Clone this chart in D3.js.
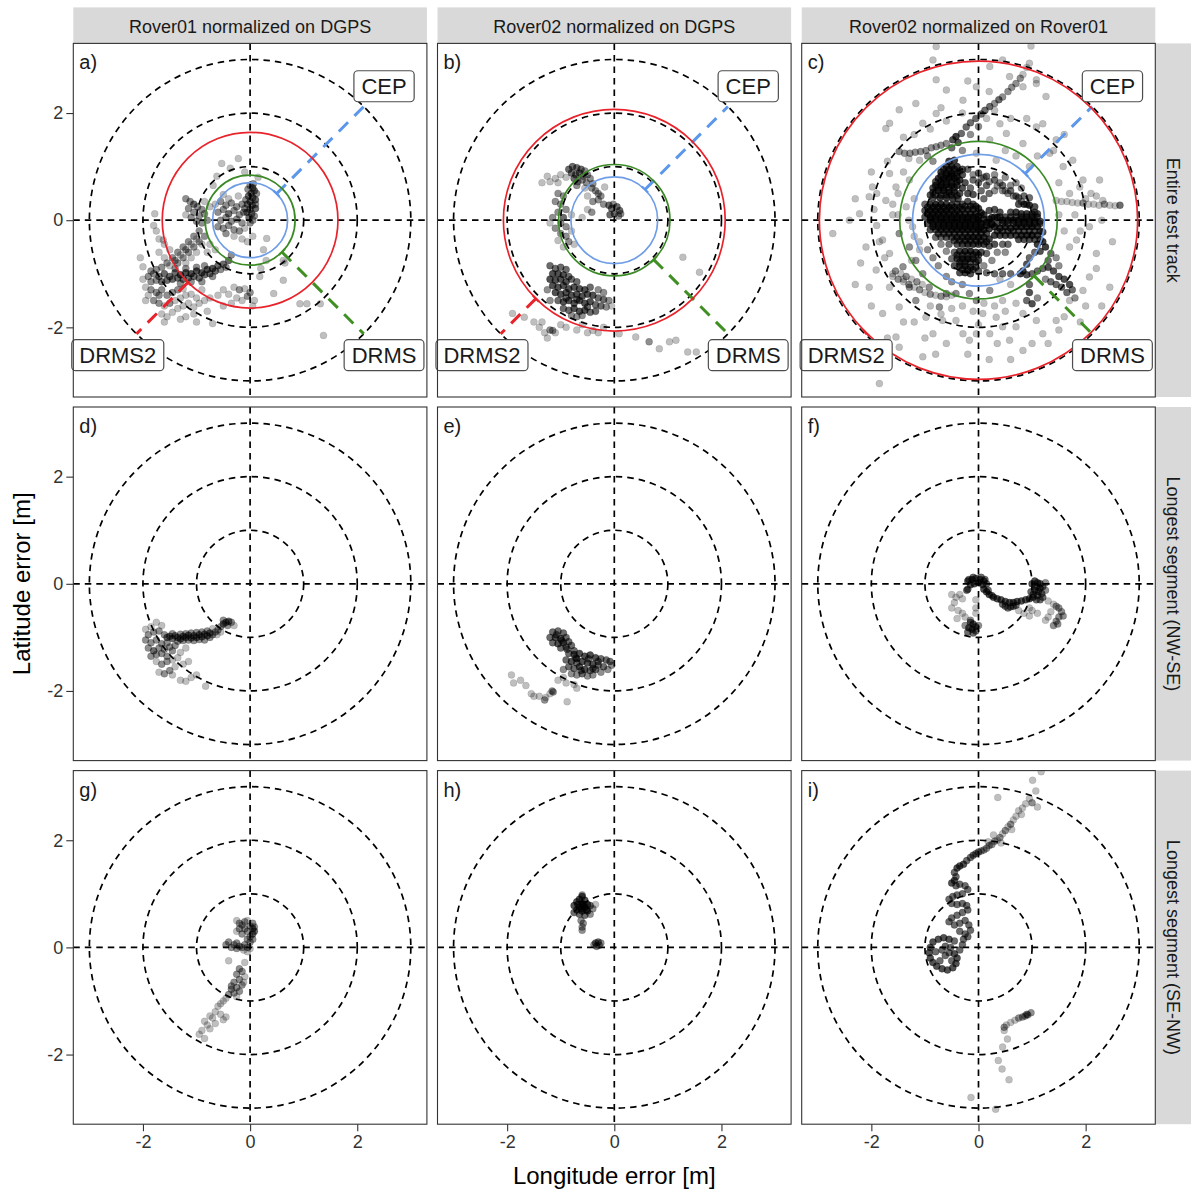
<!DOCTYPE html>
<html>
<head>
<meta charset="utf-8">
<script src="https://cdn.jsdelivr.net/npm/d3@7"></script>
<style>
  body { margin: 0; background: #fff; }
  svg text { font-family: "Liberation Sans", Arial, Helvetica, sans-serif; }
</style>
</head>
<body>
<svg id="chart" width="1191" height="1189"></svg>
<script>
// facet labels
const colLabels = ["Rover01 normalized on DGPS", "Rover02 normalized on DGPS", "Rover02 normalized on Rover01"];
const rowLabels = ["Entire test track", "Longest segment (NW-SE)", "Longest segment (SE-NW)"];
const panelTags = ["a)", "b)", "c)", "d)", "e)", "f)", "g)", "h)", "i)"];
const refRadii = [1, 2, 3];
const tickValues = [-2, 0, 2];

// accuracy circles (m), only for the entire track row
const cepRadius = [0.70, 0.81, 1.23];
const drmsRadius = [0.84, 1.04, 1.47];
const drms2Radius = [1.64, 2.07, 2.97];

// points: [lon error, lat error, n overlapping fixes]
const rover01Entire = [
  [0.0,0.65,2],[0.05,0.6,3],[0.08,0.55,3],[0.02,0.5,3],[-0.03,0.45,3],[0.05,0.42,3],[0.1,0.38,3],[0.0,0.35,3],
  [-0.05,0.3,3],[0.04,0.28,3],[0.1,0.22,3],[0.0,0.2,3],[-0.06,0.15,3],[0.03,0.12,3],[0.08,0.08,2],[-0.02,0.05,3],
  [0.05,0.0,2],[-0.08,0.38,2],[0.12,0.5,2],[-0.04,0.58,2],[0.06,0.68,2],[0.1,0.3,2],[-0.1,0.22,2],[0.0,-0.05,2],
  [-0.65,0.3,1],[-0.55,0.35,2],[-0.45,0.28,2],[-0.35,0.32,2],[-0.25,0.25,2],[-0.15,0.3,2],[-0.6,0.15,2],[-0.5,0.2,2],
  [-0.4,0.12,3],[-0.3,0.18,2],[-0.2,0.1,2],[-0.12,0.15,2],[-0.55,0.0,2],[-0.45,0.05,2],[-0.35,-0.02,2],[-0.25,0.02,2],
  [-0.15,-0.05,2],[-0.6,-0.12,2],[-0.5,-0.15,2],[-0.4,-0.1,2],[-0.3,-0.18,2],[-0.2,-0.2,2],[-0.1,-0.15,1],[-0.45,-0.25,2],
  [-0.3,-0.3,1],[-0.15,-0.35,1],[-0.05,-0.4,1],[0.05,-0.3,1],[-0.4,0.4,1],[-0.22,0.45,1],[-0.5,0.48,1],
  [-1.2,0.4,2],[-1.12,0.35,2],[-1.05,0.3,3],[-0.98,0.25,2],[-0.9,0.2,2],[-1.15,0.22,2],[-1.05,0.15,2],[-0.95,0.08,2],
  [-0.85,0.12,2],[-1.1,0.05,2],[-1.0,-0.02,2],[-0.9,-0.05,2],[-0.8,0.0,2],[-0.75,0.25,1],[-1.2,0.1,1],[-0.85,0.35,1],
  [-0.95,-0.2,2],[-0.85,-0.3,2],[-1.05,-0.3,2],[-0.95,-0.4,2],[-1.15,-0.4,2],[-1.05,-0.5,2],[-1.25,-0.5,2],[-1.15,-0.6,2],
  [-1.35,-0.6,2],[-1.25,-0.7,2],[-1.45,-0.7,2],[-1.35,-0.8,2],[-1.55,-0.8,2],[-1.65,-0.88,2],[-1.75,-0.92,2],[-1.85,-0.95,2],
  [-1.5,-0.55,1],[-1.6,-0.45,1],[-1.7,-0.35,1],[-1.75,-0.2,1],[-1.8,-0.1,1],[-1.78,0.12,1],[-1.62,-0.37,1],[-0.75,-0.45,1],[-0.65,-0.55,1],
  [-1.0,-0.35,1],[-1.1,-0.45,1],[-1.2,-0.55,2],[-1.3,-0.65,1],[-1.4,-0.75,2],[-1.5,-0.85,1],[-0.9,-0.45,1],[-1.0,-0.6,1],
  [-1.1,-0.7,1],[-1.2,-0.8,1],[-1.6,-0.7,1],[-1.7,-0.6,1],[-0.8,-0.6,1],
  [-1.9,-1.05,2],[-1.8,-1.0,2],[-1.7,-1.05,3],[-1.6,-1.0,3],[-1.5,-1.05,3],[-1.4,-0.98,3],[-1.3,-1.02,4],[-1.2,-0.98,4],
  [-1.1,-1.0,4],[-1.0,-0.95,4],[-0.9,-0.98,4],[-0.8,-0.92,4],[-0.7,-0.9,4],[-0.6,-0.85,3],[-0.5,-0.82,3],[-0.4,-0.75,3],[-0.35,-0.65,2],
  [-1.85,-1.15,2],[-1.75,-1.12,2],[-1.65,-1.15,3],[-1.55,-1.12,3],[-1.45,-1.1,3],[-1.35,-1.08,3],[-1.25,-1.1,3],[-1.15,-1.08,3],
  [-1.05,-1.05,3],[-0.95,-1.08,3],[-0.85,-1.02,3],[-0.75,-1.0,3],[-0.65,-0.95,3],[-0.55,-0.92,2],[-0.45,-0.88,2],
  [-1.2,-0.9,2],[-1.0,-0.88,2],[-0.85,-0.85,2],[-1.4,-0.9,2],[-0.7,-1.05,2],[-1.1,-1.15,2],[-1.3,-1.18,2],[-0.9,-1.15,2],
  [-1.95,-1.25,1],[-1.85,-1.3,2],[-1.75,-1.35,2],[-1.65,-1.3,2],[-1.55,-1.4,2],[-1.45,-1.35,2],[-1.35,-1.3,2],[-1.25,-1.28,1],
  [-1.8,-1.5,2],[-1.7,-1.55,2],[-1.6,-1.6,1],[-1.5,-1.55,2],[-1.4,-1.5,1],[-1.3,-1.45,1],[-1.2,-1.4,1],[-1.1,-1.38,1],
  [-1.0,-1.45,1],[-1.65,-1.75,1],[-1.55,-1.8,1],[-1.45,-1.72,1],[-1.35,-1.65,1],[-1.25,-1.6,1],[-1.15,-1.55,1],[-1.05,-1.62,1],
  [-0.95,-1.55,1],[-0.85,-1.5,1],[-0.75,-1.45,1],[-1.3,-1.85,1],[-1.2,-1.8,1],[-0.7,-1.93,1],[-1.05,-1.75,1],[-1.7,-1.4,2],[-1.9,-1.4,1],
  [-2.0,-1.1,1],[-1.95,-1.5,1],[-1.6,-1.9,1],[-1.0,-1.9,1],[-0.5,-1.6,1],[-0.8,-1.7,1],[-0.9,-1.3,1],[-2.05,-0.7,1],
  [-0.3,-1.25,1],[-0.2,-1.3,2],[-0.1,-1.28,1],[0.0,-1.35,2],[-0.25,-1.45,1],[-0.15,-1.5,1],[-0.05,-1.42,2],[0.08,-1.5,1],
  [-0.35,-1.55,1],[0.05,-1.6,1],[-0.4,-1.38,1],[-0.5,-1.3,1],[-0.6,-1.4,1],
  [0.31,-0.34,1],[0.62,-0.75,1],[0.65,-0.8,1],[0.62,-1.12,1],[0.44,-1.37,1],[0.93,-1.56,1],[1.06,-1.56,1],[1.31,-1.56,1],
  [1.37,-2.15,1],[0.3,-0.75,1],[0.2,-0.9,1],[-0.53,1.06,1],[-0.22,1.15,1],[-0.37,0.97,1],[-0.69,0.65,1],[0.15,0.8,1],
  [-0.1,0.9,1],[-2.0,-0.87,1],[0.25,-0.55,1],[0.18,-1.05,1],[-0.62,0.82,1]
];

const rover02Entire = [
  [-0.85,0.95,3],[-0.78,1.0,3],[-0.7,0.98,3],[-0.62,0.95,3],[-0.55,0.92,2],[-0.8,0.88,3],[-0.72,0.85,3],[-0.65,0.88,3],
  [-0.58,0.82,2],[-0.5,0.85,2],[-0.75,0.78,3],[-0.68,0.72,2],[-0.6,0.75,2],[-0.52,0.7,2],[-0.45,0.78,2],[-0.4,0.68,2],
  [-0.7,0.65,2],[-0.9,0.8,1],[-1.0,0.85,1],[-1.1,0.78,1],[-1.2,0.72,1],[-1.35,0.7,1],[-1.25,0.82,1],[-1.05,0.7,1],
  [-0.35,0.55,2],[-0.3,0.5,2],[-0.25,0.45,2],[-0.3,0.38,2],[-0.2,0.3,2],[-0.1,0.28,3],[-0.05,0.22,3],[0.05,0.25,3],
  [0.1,0.18,3],[0.0,0.12,3],[-0.08,0.1,3],[0.08,0.08,2],[-0.02,0.3,2],[0.12,0.12,2],[-0.42,0.6,2],[-0.18,0.62,1],
  [-0.55,0.6,1],[-0.5,0.45,1],[-0.4,0.35,2],[-0.5,0.2,1],[-0.6,0.05,1],[-0.42,0.15,2],
  [-1.05,0.5,2],[-0.95,0.45,2],[-1.1,0.35,2],[-1.0,0.3,2],[-0.9,0.2,2],[-1.05,0.15,2],[-0.95,0.05,3],[-1.15,0.05,2],
  [-1.0,-0.05,2],[-0.9,-0.12,2],[-1.1,-0.15,2],[-1.0,-0.25,2],[-0.9,-0.3,2],[-0.85,-0.4,2],[-1.05,-0.38,1],[-0.95,-0.5,1],
  [-0.8,-0.2,1],[-0.75,-0.45,1],[-1.2,-0.05,1],[-0.8,0.1,1],
  [-1.2,-0.85,3],[-1.1,-0.9,3],[-1.0,-0.88,3],[-0.9,-0.92,3],[-1.15,-1.0,4],[-1.05,-1.0,4],[-0.95,-1.02,4],[-0.85,-1.05,3],
  [-1.2,-1.1,4],[-1.1,-1.12,4],[-1.0,-1.1,4],[-0.9,-1.15,4],[-0.8,-1.1,3],[-0.7,-1.15,3],[-1.15,-1.22,4],[-1.05,-1.25,4],
  [-0.95,-1.22,4],[-0.85,-1.28,4],[-0.75,-1.25,4],[-0.65,-1.28,4],[-0.55,-1.3,4],[-0.45,-1.25,3],[-1.1,-1.35,4],[-1.0,-1.38,4],
  [-0.9,-1.35,4],[-0.8,-1.4,4],[-0.7,-1.38,4],[-0.6,-1.42,4],[-0.5,-1.38,4],[-0.4,-1.4,4],[-0.3,-1.45,3],[-0.2,-1.48,3],
  [-0.1,-1.5,2],[-1.05,-1.5,3],[-0.95,-1.52,4],[-0.85,-1.5,4],[-0.75,-1.55,4],[-0.65,-1.5,4],[-0.55,-1.55,4],[-0.45,-1.52,4],
  [-0.35,-1.58,3],[-0.25,-1.6,3],[-0.15,-1.62,2],[-0.95,-1.65,3],[-0.85,-1.68,3],[-0.75,-1.65,4],[-0.65,-1.7,4],[-0.55,-1.68,4],
  [-0.45,-1.72,3],[-0.35,-1.7,3],[-0.8,-1.78,2],[-0.7,-1.8,2],[-0.6,-1.78,2],[-1.2,-1.5,2],[-1.25,-1.3,2],[-0.3,-1.3,2],
  [-0.2,-1.35,2],[-0.05,-1.6,1],[-0.5,-1.62,3],[-0.9,-1.45,3],[-0.7,-1.48,3],
  [-1.9,-1.74,1],[-1.68,-1.81,1],[-1.5,-1.9,1],[-1.4,-2.0,1],[-1.3,-2.1,1],[-1.2,-2.05,2],[-1.15,-2.06,2],[-1.1,-2.1,1],
  [-1.25,-2.2,1],[-1.0,-1.95,1],[-0.9,-2.0,1],[-0.7,-2.05,1],[-0.5,-2.1,1],[-0.4,-2.06,1],[-0.3,-2.1,1],[-0.6,-1.95,1],
  [0.09,-2.12,1],[0.4,-2.18,1],[0.65,-2.27,2],[0.84,-2.4,1],[1.03,-2.27,1],[1.15,-2.24,1],[1.37,-2.46,1],[1.53,-2.46,1],
  [1.28,-0.69,1],[1.59,-0.97,1],[-0.2,-2.0,1],[-1.35,-1.9,1]
];

const roverDiffEntire = [
  [-0.55,1.1,5],[-0.45,1.12,5],[-0.6,1.0,5],[-0.5,1.0,6],[-0.4,1.0,5],[-0.3,0.95,4],[-0.7,0.9,5],[-0.6,0.88,6],
  [-0.5,0.88,6],[-0.4,0.88,5],[-0.3,0.85,4],[-0.75,0.78,5],[-0.65,0.78,6],[-0.55,0.78,6],[-0.45,0.78,6],[-0.35,0.75,5],
  [-0.25,0.7,4],[-0.8,0.65,5],[-0.7,0.65,6],[-0.6,0.66,6],[-0.5,0.65,6],[-0.4,0.65,5],[-0.3,0.6,4],[-0.85,0.52,4],
  [-0.75,0.55,5],[-0.65,0.55,6],[-0.55,0.52,6],[-0.45,0.52,5],[-0.35,0.5,4],[-0.85,0.42,4],[-0.72,0.42,5],[-0.6,0.42,5],
  [-0.48,0.4,5],[-0.38,0.4,4],
  [-0.65,0.95,4],[-0.55,0.95,4],[-0.45,0.95,4],[-0.35,0.92,3],[-0.7,0.83,4],[-0.6,0.83,4],[-0.5,0.83,4],[-0.4,0.82,4],
  [-0.8,0.72,4],[-0.7,0.72,4],[-0.6,0.72,4],[-0.5,0.72,4],[-0.4,0.72,4],[-0.85,0.6,4],[-0.75,0.6,4],[-0.65,0.6,4],
  [-0.55,0.6,4],[-0.45,0.6,4],[-0.9,0.47,4],[-0.8,0.47,4],[-0.7,0.47,4],[-0.6,0.47,4],[-0.5,0.47,4],[-0.4,0.46,3],
  [-1.0,0.3,3],[-0.9,0.3,5],[-0.8,0.3,6],[-0.7,0.3,6],[-0.6,0.3,5],[-0.5,0.28,5],[-0.4,0.3,4],[-0.3,0.3,4],
  [-0.2,0.35,4],[-0.1,0.3,4],[-1.0,0.18,4],[-0.9,0.18,6],[-0.8,0.18,6],[-0.7,0.18,6],[-0.6,0.18,6],[-0.5,0.18,5],
  [-0.4,0.18,5],[-0.3,0.2,5],[-0.2,0.2,5],[-0.1,0.2,5],[0.0,0.22,5],[-1.0,0.06,4],[-0.9,0.06,6],[-0.8,0.06,6],
  [-0.7,0.06,6],[-0.6,0.06,6],[-0.5,0.06,6],[-0.4,0.06,6],[-0.3,0.06,6],[-0.2,0.06,6],[-0.1,0.06,6],[0.0,0.08,6],
  [0.1,0.1,5],[-0.95,-0.06,4],[-0.85,-0.06,5],[-0.75,-0.06,5],[-0.65,-0.06,6],[-0.55,-0.06,6],[-0.45,-0.06,6],[-0.35,-0.06,6],
  [-0.25,-0.06,6],[-0.15,-0.06,6],[-0.05,-0.06,6],[0.05,-0.06,6],[0.15,-0.04,5],[-0.9,-0.18,4],[-0.8,-0.18,4],[-0.7,-0.18,5],
  [-0.6,-0.18,5],[-0.5,-0.18,6],[-0.4,-0.18,6],[-0.3,-0.18,6],[-0.2,-0.18,6],[-0.1,-0.18,6],[0.0,-0.18,6],[0.1,-0.18,6],[0.2,-0.16,5],
  [-0.95,0.24,4],[-0.85,0.24,5],[-0.75,0.24,5],[-0.65,0.24,5],[-0.55,0.24,5],[-0.45,0.24,4],[-0.35,0.24,4],[-0.25,0.26,4],
  [-0.15,0.26,4],[-0.05,0.26,4],[-0.95,0.12,5],[-0.85,0.12,5],[-0.75,0.12,5],[-0.65,0.12,5],[-0.55,0.12,5],[-0.45,0.12,5],
  [-0.35,0.12,5],[-0.25,0.12,5],[-0.15,0.12,5],[-0.05,0.12,5],[0.05,0.14,5],[-0.9,0.0,5],[-0.8,0.0,5],[-0.7,0.0,5],
  [-0.6,0.0,5],[-0.5,0.0,5],[-0.4,0.0,5],[-0.3,0.0,5],[-0.2,0.0,5],[-0.1,0.0,5],[0.0,0.0,5],[0.1,0.02,5],[0.2,0.02,5],
  [-0.85,-0.12,5],[-0.75,-0.12,5],[-0.65,-0.12,5],[-0.55,-0.12,5],[-0.45,-0.12,5],[-0.35,-0.12,5],[-0.25,-0.12,5],[-0.15,-0.12,5],
  [-0.05,-0.12,5],[0.05,-0.12,5],[0.15,-0.1,5],[0.25,-0.08,5],[-0.75,-0.25,4],[-0.65,-0.25,4],[-0.55,-0.25,4],[-0.45,-0.25,4],
  [-0.35,-0.25,4],[-0.25,-0.25,4],[-0.15,-0.25,4],[-0.05,-0.25,4],[0.05,-0.25,4],[0.15,-0.25,4],[-0.45,-0.38,4],[-0.35,-0.38,4],
  [-0.25,-0.38,4],[-0.15,-0.38,4],[-0.05,-0.38,4],[0.05,-0.38,4],[0.15,-0.4,4],
  [0.25,0.05,5],[0.35,0.05,5],[0.45,0.0,5],[0.55,0.0,5],[0.65,0.0,5],[0.75,0.0,6],[0.85,0.0,6],[0.95,0.0,6],
  [1.05,0.0,5],[1.15,-0.02,4],[0.3,-0.12,5],[0.4,-0.15,5],[0.5,-0.12,5],[0.6,-0.15,5],[0.7,-0.12,6],[0.8,-0.12,6],
  [0.9,-0.12,6],[1.0,-0.12,6],[1.1,-0.12,5],[0.3,-0.28,5],[0.4,-0.28,5],[0.5,-0.28,5],[0.6,-0.28,5],[0.7,-0.28,5],
  [0.8,-0.28,6],[0.9,-0.28,6],[1.0,-0.28,6],[1.1,-0.28,5],[1.2,-0.22,4],[0.2,0.18,4],[0.3,0.2,4],[0.4,0.15,4],
  [0.6,0.15,4],[0.7,0.15,5],[0.8,0.12,5],[0.9,0.12,5],[1.0,0.12,5],[1.1,0.12,4],[0.75,0.3,4],[0.85,0.3,5],
  [0.95,0.28,5],[1.05,0.25,4],[0.7,0.45,3],[0.85,0.45,3],[0.95,0.42,3],[0.1,0.4,3],[0.2,0.5,3],[0.3,0.55,2],
  [0.45,0.55,2],[0.55,0.5,2],[0.6,0.65,2],[0.4,0.7,2],[0.15,0.65,3],[0.05,0.55,3],[0.0,0.7,3],[-0.1,0.75,3],
  [-0.15,0.6,3],[-0.1,0.48,4],[-0.2,0.5,4],[0.1,0.8,2],[0.3,0.85,2],[0.5,0.8,2],[0.7,0.7,2],[0.8,0.6,2],
  [0.3,0.06,4],[0.4,0.06,4],[0.5,0.06,4],[0.6,0.06,4],[0.7,0.06,4],[0.8,0.06,4],[0.9,0.06,4],[1.0,0.06,4],[1.1,0.06,4],
  [0.25,-0.06,4],[0.35,-0.06,4],[0.45,-0.06,4],[0.55,-0.06,4],[0.65,-0.06,4],[0.75,-0.06,4],[0.85,-0.06,4],[0.95,-0.06,4],
  [1.05,-0.06,4],[1.15,-0.06,4],[0.35,-0.2,4],[0.45,-0.2,4],[0.55,-0.2,4],[0.65,-0.2,4],[0.75,-0.2,4],[0.85,-0.2,4],
  [0.95,-0.2,4],[1.05,-0.2,4],[1.15,-0.2,4],[0.75,-0.36,4],[0.85,-0.36,4],[0.95,-0.36,4],[1.05,-0.36,4],[1.15,-0.36,4],
  [-0.2,0.95,3],[0.0,0.88,3],[0.15,0.82,3],[0.3,0.75,3],[0.45,0.65,3],[0.6,0.55,3],[0.75,0.42,3],[0.9,0.3,3],
  [1.05,0.15,3],[-0.1,0.85,2],[0.05,0.78,2],[0.2,0.72,2],[0.35,0.64,2],[0.5,0.55,2],[0.65,0.45,2],[0.8,0.35,2],
  [-0.8,-0.32,3],[-0.7,-0.32,3],[-0.6,-0.32,4],[-0.5,-0.32,4],[-0.4,-0.32,5],[-0.3,-0.32,5],[-0.2,-0.32,6],[-0.1,-0.32,6],
  [0.0,-0.32,6],[0.1,-0.32,5],[0.2,-0.35,5],[-0.7,-0.45,2],[-0.55,-0.45,3],[-0.4,-0.45,4],[-0.3,-0.45,5],[-0.2,-0.45,6],
  [-0.1,-0.45,6],[0.0,-0.45,5],[0.1,-0.45,5],[0.2,-0.48,4],[-0.6,-0.58,2],[-0.45,-0.6,3],[-0.35,-0.58,5],[-0.25,-0.58,6],
  [-0.15,-0.58,6],[-0.05,-0.6,5],[0.05,-0.6,4],[0.15,-0.62,3],[-0.5,-0.72,3],[-0.4,-0.72,5],[-0.3,-0.72,6],[-0.2,-0.72,6],
  [-0.1,-0.72,5],[0.0,-0.75,4],[-0.45,-0.85,4],[-0.35,-0.85,6],[-0.25,-0.85,6],[-0.15,-0.88,5],[-0.05,-0.88,4],[-0.35,-0.98,4],
  [-0.25,-0.98,5],[-0.15,-1.0,4],[0.3,-0.45,4],[0.45,-0.45,3],[0.55,-0.45,3],[0.35,-0.6,2],[0.5,-0.6,2],[0.25,-0.75,2],[0.1,-0.85,2],
  [-0.4,-0.65,4],[-0.3,-0.65,4],[-0.2,-0.65,4],[-0.1,-0.65,4],[0.0,-0.65,4],[-0.35,-0.78,4],[-0.25,-0.78,4],[-0.15,-0.78,4],
  [-0.05,-0.78,4],[-0.3,-0.92,4],[-0.2,-0.92,4],[-0.1,-0.92,4],[0.0,-0.95,3],[0.15,-0.98,3],[0.3,-1.0,3],[0.45,-1.0,3],[0.6,-1.0,3],
  [1.2,-0.4,5],[1.1,-0.45,5],[1.25,-0.5,5],[1.15,-0.58,4],[1.05,-0.6,3],[0.95,-0.7,3],[0.9,-0.82,4],[0.83,-0.95,5],
  [0.78,-1.0,5],[0.9,-1.02,4],[1.0,-1.0,3],[1.1,-0.95,3],[1.2,-0.9,3],[1.3,-0.88,4],[1.4,-0.95,4],[1.5,-1.05,4],
  [1.6,-1.1,4],[1.7,-1.2,4],[1.75,-1.3,3],[1.65,-1.35,3],[1.55,-1.25,3],[1.45,-1.2,3],[1.35,-1.15,3],[1.25,-1.1,2],
  [0.95,-1.2,3],[0.95,-1.35,4],[0.9,-1.5,3],[1.0,-1.56,4],[1.1,-1.45,2],[1.3,-0.75,3],[1.35,-0.62,3],[1.45,-0.7,2],
  [1.5,-0.85,2],[1.8,-1.45,2],
  [-0.48,1.5,4],[-0.42,1.56,5],[-0.38,1.45,4],[-0.32,1.62,3],[-0.23,1.74,3],[-0.15,1.82,3],[-0.05,1.9,3],[0.05,1.98,3],
  [0.12,2.05,3],[0.21,2.12,3],[0.3,2.18,2],[0.38,2.25,3],[0.45,2.3,2],[0.55,2.4,2],[0.62,2.48,2],[0.7,2.55,2],
  [0.78,2.65,2],[0.83,2.72,1],[0.9,2.85,1],[0.95,2.93,1],[-0.5,1.35,3],[-0.3,1.3,2],[-0.15,1.6,2],[0.0,1.75,2],
  [0.15,1.9,1],[0.3,2.05,1],
  [-1.48,1.28,2],[-1.38,1.25,2],[-1.28,1.25,2],[-1.18,1.27,2],[-1.08,1.28,2],[-0.98,1.3,2],[-0.88,1.35,2],[-0.79,1.37,2],
  [-0.7,1.4,2],[-0.6,1.43,2],[-1.3,1.15,1],[-1.1,1.12,1],[-0.95,1.2,2],[-0.85,1.1,2],
  [1.45,0.37,1],[1.55,0.35,1],[1.65,0.35,1],[1.75,0.33,1],[1.85,0.32,1],[1.95,0.32,2],[2.05,0.3,1],[2.15,0.3,1],
  [2.25,0.28,1],[2.35,0.3,2],[2.45,0.28,1],[2.55,0.27,1],[2.64,0.28,3],[2.0,0.4,1],[2.2,0.45,1],
  [-0.79,2.62,1],[-0.6,2.43,1],[-0.29,2.24,1],[-0.04,2.49,1],[0.21,2.87,1],[0.45,2.99,1],[0.58,2.68,1],[0.83,2.49,1],
  [1.08,2.55,1],[1.26,2.31,1],[-0.79,3.24,1],[-0.85,2.99,1],[-1.17,2.18,1],[-1.66,1.81,1],[-1.73,1.71,1],[-1.48,2.06,1],
  [-1.04,1.81,1],[-0.79,1.99,1],[0.21,1.5,1],[0.52,1.62,1],[0.83,1.43,1],[1.08,1.74,1],[1.45,1.5,1],[1.76,1.12,1],
  [1.95,0.75,1],[1.58,1.0,1],[1.33,1.25,1],[0.95,1.0,1],[0.33,1.12,1],[-0.04,1.25,1],[0.98,3.25,1],[1.08,2.62,1],
  [-1.98,0.62,1],[-2.04,0.44,1],[-2.22,0.12,1],[-2.72,-0.25,1],[-2.41,0.0,1],[-1.73,0.37,1],[-1.54,0.62,1],[-1.66,0.87,1],
  [-1.29,0.75,1],[-1.35,0.25,1],[-1.23,-0.12,1],[-1.48,-0.25,2],[-1.79,-0.37,1],[-1.66,-0.62,1],[-1.29,-0.5,2],[-1.17,-0.75,2],
  [-1.41,-0.87,2],[-1.91,-0.93,1],[-2.04,-1.25,1],[-1.66,-1.25,1],[-1.29,-1.25,2],[-1.04,-1.0,2],[-0.92,-1.25,2],[-1.17,-1.5,2],
  [-1.48,-1.62,1],[-1.79,-1.74,1],[-0.98,-1.81,1],[-0.73,-1.62,2],[-0.6,-1.37,2],[-0.85,-2.12,1],[-1.54,-2.18,1],[-1.48,-2.37,1],
  [-1.04,-2.55,1],[-3.16,-2.55,1],[-1.85,-3.05,1],
  [-0.42,-1.87,1],[-0.29,-2.12,1],[-0.17,-2.24,1],[-0.04,-2.12,1],[0.21,-2.12,1],[0.45,-1.99,1],[0.58,-2.24,1],[0.83,-2.43,1],
  [1.2,-2.12,1],[1.45,-1.87,1],[1.7,-1.5,1],[1.95,-1.31,1],[2.07,-1.06,1],[2.45,-1.25,1],[2.2,-0.62,1],[1.83,-0.37,1],
  [2.07,-0.12,1],[-0.04,-1.5,2],[0.21,-1.31,2],[0.45,-1.5,1],[0.83,-1.74,1],[-0.17,-1.37,2],[-0.42,-1.37,2],[-0.67,-1.87,1],
  [0.33,-1.81,1],[0.08,-1.74,1],[0.7,-1.99,1],[1.08,-1.87,1],[1.89,0.62,1],[2.32,0.37,1],[2.26,0.75,1],
  [-1.1,-0.4,1],[-1.2,-0.3,1],[-0.95,-0.55,2],[-0.85,-0.7,2],[-0.75,-0.85,2],[-0.6,-1.05,2],[-0.5,-1.15,2],[-1.6,-1.0,1],
  [-1.4,-1.1,1],[-0.3,-1.2,2],[0.4,-1.1,1],[0.6,-1.2,1],[-1.5,0.1,1],[-1.6,0.3,1],[1.5,0.1,1],[1.6,-0.2,1],
  [-1.6,-1.05,1],[-1.5,-1.1,2],[-1.4,-1.15,1],[-1.3,-1.2,2],[-1.2,-1.25,1],[-1.1,-1.3,2],[-1.0,-1.35,1],[-0.9,-1.38,2],
  [-0.8,-1.4,1],[-0.7,-1.42,2],[-0.6,-1.43,1],[-0.5,-1.4,1],[-1.55,-0.95,2],[-1.45,-1.0,1],[-1.35,-1.05,2],[-1.25,-1.1,1],
  [-1.15,-1.15,2],[-1.05,-1.2,1],
  [-1.9,0.5,1],[-1.95,0.2,1],[-1.9,-0.1,1],[-1.85,-0.4,1],[-1.75,-0.7,1],[-2.1,-0.5,1],[-2.2,-0.8,1],[-1.6,0.1,1],
  [-1.5,0.5,1],[-1.4,0.9,1],[-1.7,1.1,1],[-2.0,0.9,1],[-2.3,0.4,1],[-1.2,0.4,1],[-1.3,0.0,1],[-1.1,-0.55,1],[-1.25,-0.75,1],
  [-1.2,1.6,1],[-0.9,1.7,1],[-0.6,1.85,1],[-0.3,2.0,1],[0.4,1.8,1],[0.6,1.9,1],[0.9,1.9,1],[1.2,1.8,1],
  [1.4,1.3,1],[1.6,1.6,1],[0.7,1.2,1],[0.5,1.3,1],[1.1,1.2,1],[-1.4,1.55,1],[-0.7,2.1,1],[-0.2,2.6,1],[0.2,2.4,1],
  [1.5,0.7,1],[1.7,0.5,1],[1.8,0.1,1],[1.9,-0.2,1],[1.7,-0.5,1],[2.1,0.5,1],[2.3,0.0,1],[2.5,-0.4,1],
  [2.2,-0.9,1],[2.0,-1.6,1],[1.6,-1.8,1],[1.9,-1.9,1],[2.3,-1.6,1],
  [-0.9,-1.6,1],[-0.7,-1.75,1],[-0.5,-1.65,1],[-0.3,-1.6,1],[-0.1,-1.7,1],[0.1,-1.55,1],[0.3,-1.6,1],[0.5,-1.7,1],
  [0.7,-1.55,1],[-0.6,-2.3,1],[-0.2,-2.5,1],[0.2,-2.6,1],[0.6,-2.6,1],[1.0,-2.3,1],[1.3,-2.3,1],[-1.2,-1.9,1],
  [-1.4,-1.9,1],[-1.0,-2.2,1],[-0.8,-2.5,1],[0.0,-1.95,1],[0.35,-2.3,1],[1.5,-2.05,1],[-1.7,-2.2,1],[-2.0,-1.6,1],[-2.3,-1.2,1]
];

const rover01NwSe = [
  [-1.55,-1.0,3],[-1.5,-0.98,3],[-1.45,-1.02,3],[-1.4,-0.97,3],[-1.35,-1.0,3],[-1.3,-1.03,3],[-1.25,-0.98,3],[-1.2,-1.0,3],
  [-1.15,-0.96,3],[-1.1,-1.01,3],[-1.05,-0.97,3],[-1.0,-1.0,3],[-0.95,-0.95,3],[-0.9,-0.99,3],[-0.85,-0.94,3],[-0.8,-0.97,3],
  [-0.75,-0.92,3],[-0.7,-0.95,2],[-0.65,-0.9,2],[-0.6,-0.86,2],[-0.55,-0.8,2],[-0.5,-0.75,3],[-0.45,-0.72,3],[-0.4,-0.7,3],
  [-0.35,-0.72,2],[-0.3,-0.78,1],[-0.5,-0.68,2],[-0.42,-0.78,2],
  [-1.45,-0.93,2],[-1.35,-1.07,2],[-1.25,-1.06,2],[-1.15,-1.05,2],[-1.05,-1.06,2],[-0.95,-1.04,2],[-1.3,-0.94,2],[-1.2,-0.93,2],
  [-1.1,-0.92,2],[-1.0,-0.91,2],[-0.9,-0.9,2],[-0.8,-0.88,2],[-0.7,-0.84,1],[-0.85,-1.05,2],[-0.75,-1.0,2],[-0.62,-0.95,1],[-0.55,-0.9,1],
  [-1.95,-0.85,1],[-1.85,-0.8,1],[-1.75,-0.72,1],[-1.65,-0.78,1],[-1.9,-0.95,2],[-1.8,-0.9,2],[-1.7,-0.88,2],[-1.6,-0.95,2],
  [-1.95,-1.05,2],[-1.85,-1.1,2],[-1.75,-1.05,2],[-1.65,-1.12,2],[-1.55,-1.1,2],[-1.9,-1.2,2],[-1.8,-1.25,3],[-1.7,-1.2,2],
  [-1.6,-1.22,2],[-1.85,-1.35,2],[-1.75,-1.32,2],[-1.65,-1.3,2],[-1.55,-1.35,2],[-1.45,-1.25,2],[-1.4,-1.15,2],[-1.5,-1.18,2],
  [-1.75,-1.45,1],[-1.65,-1.5,2],[-1.55,-1.45,2],[-1.45,-1.42,1],[-1.35,-1.38,1],[-1.3,-1.28,1],[-1.2,-1.2,1],[-1.7,-1.65,1],
  [-1.6,-1.68,2],[-1.5,-1.62,2],[-1.4,-1.55,1],[-1.25,-1.5,1],[-1.15,-1.45,1],[-1.3,-1.8,1],[-1.2,-1.82,1],[-1.1,-1.75,1],
  [-1.0,-1.7,1],[-0.83,-1.91,1],[-1.45,-1.7,1]
];

const rover02NwSe = [
  [-1.15,-0.9,3],[-1.05,-0.88,3],[-0.95,-0.92,3],[-1.2,-1.0,3],[-1.1,-1.0,4],[-1.0,-1.02,4],[-0.9,-1.0,3],[-1.15,-1.1,3],
  [-1.05,-1.12,4],[-0.95,-1.1,4],[-0.85,-1.08,3],[-1.0,-1.2,3],[-0.9,-1.18,3],[-0.8,-1.15,3],[-0.75,-1.25,3],[-1.08,-0.95,3],
  [-0.98,-1.06,3],[-0.88,-1.22,3],
  [-0.85,-1.3,3],[-0.75,-1.32,4],[-0.65,-1.3,4],[-0.55,-1.35,4],[-0.45,-1.33,4],[-0.35,-1.38,4],[-0.25,-1.4,3],[-0.15,-1.42,3],
  [-0.08,-1.45,3],[-0.05,-1.52,2],[-0.9,-1.42,3],[-0.8,-1.45,4],[-0.7,-1.4,4],[-0.6,-1.45,4],[-0.5,-1.48,4],[-0.4,-1.5,4],
  [-0.3,-1.52,3],[-0.2,-1.55,3],[-0.12,-1.6,2],[-0.85,-1.55,3],[-0.75,-1.58,3],[-0.65,-1.55,4],[-0.55,-1.6,4],[-0.45,-1.62,3],
  [-0.35,-1.6,3],[-0.25,-1.65,2],[-0.8,-1.68,2],[-0.7,-1.7,2],[-0.6,-1.68,3],[-0.5,-1.72,2],[-0.4,-1.7,2],[-0.95,-1.6,2],
  [-0.7,-1.48,3],[-0.48,-1.4,3],[-0.3,-1.45,3],[-0.62,-1.62,3],[-0.72,-1.38,3],[-0.4,-1.58,3],
  [-0.95,-1.75,1],[-0.9,-1.85,1],[-0.75,-1.88,1],[-0.7,-1.95,1],[-1.05,-1.8,1],[-1.14,-2.02,2],[-1.16,-2.0,2],[-1.3,-2.17,2],
  [-1.28,-2.12,1],[-1.4,-2.1,1],[-1.5,-2.1,1],[-1.55,-2.05,1],[-1.65,-1.9,1],[-1.75,-1.8,1],[-1.92,-1.7,1],[-1.88,-1.85,1],
  [-0.88,-2.2,1],[-1.2,-2.05,1]
];

const roverDiffNwSe = [
  [-0.2,0.05,4],[-0.12,0.08,4],[-0.05,0.1,4],[0.03,0.08,4],[0.1,0.05,4],[0.15,0.0,3],[-0.15,-0.02,4],[-0.08,0.0,4],
  [0.0,0.02,4],[0.08,-0.02,4],[-0.18,0.08,3],[0.05,0.12,3],[-0.1,0.12,3],[0.12,0.08,3],[-0.22,-0.12,3],[-0.2,-0.1,3],
  [0.1,-0.1,4],[0.15,-0.15,4],[0.2,-0.2,4],[0.28,-0.25,4],[0.35,-0.28,4],[0.42,-0.3,4],[0.5,-0.33,4],[0.58,-0.35,4],
  [0.65,-0.35,4],[0.72,-0.33,4],[0.8,-0.32,4],[0.88,-0.3,4],[0.95,-0.28,4],[1.02,-0.25,4],[0.5,-0.42,3],[0.55,-0.45,3],
  [0.6,-0.43,3],[0.45,-0.38,3],[0.65,-0.42,3],[0.7,-0.4,3],[0.25,-0.22,3],[0.18,-0.12,3],
  [1.0,0.0,4],[1.05,0.05,4],[1.1,0.02,4],[1.15,0.0,4],[1.08,-0.05,4],[1.15,-0.08,4],[1.2,-0.05,3],[1.05,-0.12,4],
  [1.12,-0.15,4],[1.18,-0.18,3],[1.1,-0.22,3],[1.2,-0.25,3],[1.15,-0.3,3],[1.08,-0.3,3],[1.25,-0.12,2],[0.98,-0.15,3],
  [1.02,-0.2,3],[1.25,0.02,2],
  [1.3,-0.32,1],[1.4,-0.38,1],[1.45,-0.42,2],[1.5,-0.45,2],[1.55,-0.52,2],[1.58,-0.6,2],[1.5,-0.62,2],[1.45,-0.7,2],
  [1.4,-0.78,2],[1.48,-0.75,2],[1.35,-0.52,1],[1.3,-0.62,1],[1.25,-0.68,1],
  [0.95,-0.45,1],[1.0,-0.5,1],[0.85,-0.55,1],[0.95,-0.6,1],[0.75,-0.5,1],[1.1,-0.55,1],
  [-0.15,-0.72,3],[-0.1,-0.75,4],[-0.05,-0.8,4],[-0.18,-0.82,4],[-0.12,-0.85,4],[-0.05,-0.88,3],[-0.2,-0.9,3],[-0.1,-0.92,3],
  [0.0,-0.78,2],[-0.25,-0.78,2],[-0.15,-0.68,2],
  [-0.5,-0.2,1],[-0.42,-0.25,1],[-0.35,-0.2,1],[-0.3,-0.28,1],[-0.45,-0.35,1],[-0.5,-0.45,1],[-0.38,-0.5,1],[-0.3,-0.55,1],
  [-0.4,-0.65,1],[-0.25,-0.62,1],[-0.05,-0.3,1],[-0.05,-0.45,1],[-0.05,-0.55,1]
];

const rover01SeNw = [
  [-0.25,0.5,1],[-0.2,0.45,2],[-0.15,0.42,2],[-0.1,0.48,2],[-0.05,0.5,1],[0.0,0.4,2],[0.05,0.35,3],[0.08,0.3,3],
  [0.05,0.25,3],[0.0,0.2,2],[-0.05,0.3,2],[-0.1,0.35,2],[-0.2,0.35,2],[-0.25,0.3,1],[0.05,0.15,2],[0.0,0.1,2],
  [-0.05,0.15,2],[0.05,0.45,2],[0.08,0.38,2],[-0.15,0.25,2],
  [-0.45,0.05,2],[-0.4,0.1,2],[-0.35,0.0,2],[-0.3,0.05,2],[-0.25,0.08,2],[-0.2,0.02,2],[-0.15,0.0,2],[-0.1,0.05,2],
  [-0.05,0.0,2],[0.0,-0.02,1],[-0.12,-0.05,1],[-0.25,-0.02,2],[-0.05,-0.08,1],
  [-0.4,-0.25,1],[-0.1,-0.28,1],[-0.2,-0.4,2],[-0.15,-0.45,2],[-0.25,-0.5,2],[-0.1,-0.55,1],[-0.2,-0.6,2],[-0.3,-0.65,2],
  [-0.15,-0.7,2],[-0.25,-0.75,2],[-0.35,-0.78,2],[-0.2,-0.82,2],[-0.3,-0.85,2],[-0.4,-0.88,2],[-0.25,-0.92,1],[-0.45,-0.95,1],
  [-0.5,-1.0,1],[-0.35,-0.72,2],[-0.12,-0.65,1],
  [-0.55,-1.05,1],[-0.6,-1.1,1],[-0.45,-1.3,1],[-0.55,-1.25,1],[-0.65,-1.2,1],[-0.7,-1.32,1],[-0.75,-1.28,1],[-0.65,-1.42,1],
  [-0.8,-1.45,1],[-0.85,-1.38,1],[-0.75,-1.52,1],[-0.9,-1.55,1],[-0.95,-1.62,1],[-0.85,-1.7,1],[-0.5,-1.35,1]
];

const rover02SeNw = [
  [-0.6,0.95,4],[-0.65,0.9,4],[-0.55,0.88,4],[-0.7,0.85,4],[-0.6,0.82,5],[-0.5,0.8,4],[-0.75,0.78,4],[-0.65,0.75,5],
  [-0.55,0.75,5],[-0.45,0.78,3],[-0.4,0.72,2],[-0.7,0.7,4],[-0.6,0.68,4],[-0.5,0.68,4],[-0.75,0.65,3],[-0.65,0.62,3],
  [-0.55,0.6,3],[-0.45,0.62,2],[-0.62,0.72,5],[-0.58,0.8,5],[-0.68,0.8,4],[-0.52,0.7,4],[-0.35,0.8,1],[-0.6,0.98,2],
  [-0.62,0.5,2],[-0.58,0.45,2],[-0.6,0.38,2],[-0.6,0.32,2],
  [-0.35,0.08,3],[-0.3,0.1,3],[-0.25,0.08,2],[-0.33,0.02,3],[-0.28,0.04,2],[-0.38,0.05,2]
];

const roverDiffSeNw = [
  [1.17,3.28,1],[1.01,3.12,1],[1.07,2.92,1],[0.36,2.8,1],[0.95,2.78,1],[1.0,2.7,2],[1.1,2.62,1],[0.88,2.68,1],
  [0.82,2.6,1],[0.75,2.55,1],[0.8,2.48,1],[0.7,2.45,1],[0.65,2.38,1],[0.6,2.3,2],[0.55,2.25,1],[0.62,2.2,1],
  [0.5,2.18,2],[0.45,2.12,1],[0.4,2.05,2],[0.35,2.0,1],[0.3,1.98,2],[0.25,1.92,2],[0.2,1.9,2],[0.15,1.85,2],
  [0.1,1.82,2],[0.05,1.8,2],[0.28,2.1,1],[0.42,1.95,1],[0.18,1.97,1],
  [0.0,1.78,3],[-0.05,1.75,3],[-0.1,1.72,3],[-0.15,1.68,3],[-0.22,1.62,3],[-0.28,1.55,4],[-0.35,1.52,4],[-0.4,1.48,4],
  [-0.45,1.4,3],[-0.42,1.32,3],[-0.45,1.25,4],[-0.5,1.2,4],[-0.42,1.15,3],[-0.35,1.18,3],[-0.25,1.15,3],[-0.2,1.08,3],
  [-0.3,1.0,3],[-0.4,0.98,3],[-0.48,0.95,3],[-0.55,0.9,3],[-0.5,0.82,3],[-0.4,0.8,3],[-0.3,0.82,3],[-0.22,0.78,3],
  [-0.2,0.7,3],[-0.3,0.65,3],[-0.4,0.6,3],[-0.5,0.55,3],[-0.55,0.48,3],[-0.45,0.42,3],[-0.35,0.45,3],[-0.25,0.5,3],
  [-0.18,0.42,3],[-0.15,0.32,3],[-0.25,0.25,3],[-0.35,0.3,3],[-0.28,0.15,3],[-0.2,0.2,3],
  [-0.45,0.12,3],[-0.55,0.15,4],[-0.65,0.18,4],[-0.75,0.15,4],[-0.85,0.1,4],[-0.9,0.0,4],[-0.92,-0.1,4],[-0.9,-0.2,4],
  [-0.85,-0.28,4],[-0.78,-0.35,4],[-0.68,-0.4,4],[-0.58,-0.42,4],[-0.48,-0.38,4],[-0.42,-0.3,4],[-0.4,-0.2,4],[-0.45,-0.12,4],
  [-0.55,-0.1,3],[-0.62,-0.15,3],[-0.68,-0.05,3],[-0.62,0.02,3],[-0.52,0.0,3],[-0.35,-0.05,3],[-0.3,0.05,3],[-0.5,-0.25,3],
  [-0.72,-0.25,3],[-0.8,-0.08,3],
  [0.98,-1.22,2],[0.92,-1.26,2],[0.87,-1.28,2],[0.82,-1.3,2],[0.75,-1.32,2],[0.68,-1.36,1],[0.6,-1.4,1],[0.52,-1.45,1],
  [0.48,-1.49,2],[0.48,-1.55,1],[0.54,-1.71,1],[0.45,-1.86,1],[0.37,-2.11,1],[0.44,-2.27,1],[0.57,-2.47,1],[-0.14,-2.8,1],
  [0.32,-3.02,1],[0.9,-1.25,2]
];

const panelPoints = [
  rover01Entire, rover02Entire, roverDiffEntire,
  rover01NwSe, rover02NwSe, roverDiffNwSe,
  rover01SeNw, rover02SeNw, roverDiffSeNw
];

// layout
const svg = d3.select("#chart");
const S = 353.6;
const colX = [73.3, 437.5, 801.7];
const rowY = [43.4, 407.0, 770.6];
const stripW = 36;

const x = d3.scaleLinear().domain([-3.3, 3.3]).range([0, S]);
const y = d3.scaleLinear().domain([-3.3, 3.3]).range([S, 0]);
const rpx = r => x(r) - x(0);
const alpha = n => 1 - Math.pow(1 - 0.25, n || 1);

const stats = [
  {name: "CEP",   radii: cepRadius,   circle: "#6f9ee6", lead: "#5c97eb", ang: Math.PI / 4,       lx: 2.5,   ly: 2.5},
  {name: "DRMS",  radii: drmsRadius,  circle: "#3b8a26", lead: "#3f8f22", ang: -Math.PI / 4,      lx: 2.5,   ly: -2.52},
  {name: "DRMS2", radii: drms2Radius, circle: "#e8232b", lead: "#e8232b", ang: -3 * Math.PI / 4,  lx: -2.47, ly: -2.52}
];

const defs = svg.append("defs");

// top strips
colLabels.forEach((lab, c) => {
  svg.append("rect").attr("x", colX[c]).attr("y", rowY[0] - stripW).attr("width", S).attr("height", stripW)
    .attr("fill", "#d9d9d9");
  svg.append("text").attr("x", colX[c] + S / 2).attr("y", rowY[0] - 10.5)
    .attr("text-anchor", "middle").attr("font-size", 18).attr("fill", "#1a1a1a").text(lab);
});

// right strips
rowLabels.forEach((lab, r) => {
  const sx = colX[2] + S;
  svg.append("rect").attr("x", sx).attr("y", rowY[r]).attr("width", stripW).attr("height", S)
    .attr("fill", "#d9d9d9");
  svg.append("text").attr("transform", `translate(${sx + 11.5},${rowY[r] + S / 2}) rotate(90)`)
    .attr("text-anchor", "middle").attr("font-size", 18).attr("fill", "#1a1a1a").text(lab);
});

for (let r = 0; r < 3; r++) {
  for (let c = 0; c < 3; c++) {
    const i = r * 3 + c;
    const g = svg.append("g").attr("transform", `translate(${colX[c]},${rowY[r]})`);

    defs.append("clipPath").attr("id", "clip" + i)
      .append("rect").attr("width", S).attr("height", S);

    g.append("rect").attr("width", S).attr("height", S).attr("fill", "#fff");

    const inner = g.append("g").attr("clip-path", `url(#clip${i})`);

    // observations
    inner.append("g").selectAll("circle").data(panelPoints[i]).join("circle")
      .attr("cx", d => x(d[0])).attr("cy", d => y(d[1])).attr("r", 3.5)
      .attr("fill", "#000").attr("fill-opacity", d => alpha(d[2]))
      .attr("stroke", "#000").attr("stroke-opacity", d => alpha(d[2]) * 0.45).attr("stroke-width", 0.8);

    // reference rings and cross
    inner.append("g").selectAll("circle").data(refRadii).join("circle")
      .attr("cx", x(0)).attr("cy", y(0)).attr("r", d => rpx(d))
      .attr("fill", "none").attr("stroke", "#000").attr("stroke-width", 1.7).attr("stroke-dasharray", "6.5,5");
    inner.append("line").attr("x1", 0).attr("x2", S).attr("y1", y(0)).attr("y2", y(0))
      .attr("stroke", "#000").attr("stroke-width", 1.7).attr("stroke-dasharray", "6.5,5");
    inner.append("line").attr("x1", x(0)).attr("x2", x(0)).attr("y1", 0).attr("y2", S)
      .attr("stroke", "#000").attr("stroke-width", 1.7).attr("stroke-dasharray", "6.5,5");

    if (r === 0) {
      stats.forEach(s => {
        const rad = s.radii[c];
        inner.append("circle").attr("cx", x(0)).attr("cy", y(0)).attr("r", rpx(rad))
          .attr("fill", "none").attr("stroke", s.circle).attr("stroke-width", 1.7);
        const cx0 = rad * Math.cos(s.ang), cy0 = rad * Math.sin(s.ang);
        const cx1 = 3 * Math.cos(s.ang), cy1 = 3 * Math.sin(s.ang);
        inner.append("line")
          .attr("x1", x(cx0)).attr("y1", y(cy0)).attr("x2", x(cx1)).attr("y2", y(cy1))
          .attr("stroke", s.lead).attr("stroke-width", 3).attr("stroke-dasharray", "13,9");
        // flat cap at the ring
        const px = -Math.sin(s.ang) * 0.08, py = Math.cos(s.ang) * 0.08;
        inner.append("line")
          .attr("x1", x(cx0 - px)).attr("y1", y(cy0 - py)).attr("x2", x(cx0 + px)).attr("y2", y(cy0 + py))
          .attr("stroke", s.lead).attr("stroke-width", 2.2);
      });
      stats.forEach(s => {
        const lg = g.append("g").attr("transform", `translate(${x(s.lx)},${y(s.ly)})`);
        const t = lg.append("text").attr("text-anchor", "middle").attr("dy", "0.36em")
          .attr("font-size", 22).attr("fill", "#1a1a1a").text(s.name);
        const w = t.node().getComputedTextLength() + 15;
        lg.insert("rect", "text").attr("x", -w / 2).attr("y", -15.5).attr("width", w).attr("height", 31)
          .attr("rx", 4).attr("fill", "#fff").attr("stroke", "#4d4d4d").attr("stroke-width", 1.2);
      });
    }

    g.append("text").attr("x", 6).attr("y", 26).attr("font-size", 20).attr("fill", "#1a1a1a").text(panelTags[i]);

    g.append("rect").attr("width", S).attr("height", S).attr("fill", "none")
      .attr("stroke", "#333").attr("stroke-width", 1.1);

    // axes on outer panels only
    if (c === 0) {
      const ay = g.append("g").call(d3.axisLeft(y).tickValues(tickValues).tickSize(7).tickPadding(3).tickFormat(d => String(d)));
      ay.select(".domain").remove();
      ay.selectAll("line").attr("stroke", "#333").attr("stroke-width", 1.1);
      ay.selectAll("text").attr("font-size", 18).attr("fill", "#333").style("font-family", "'Liberation Sans', Arial, sans-serif");
    }
    if (r === 2) {
      const ax = g.append("g").attr("transform", `translate(0,${S})`)
        .call(d3.axisBottom(x).tickValues(tickValues).tickSize(7).tickPadding(4).tickFormat(d => String(d)));
      ax.select(".domain").remove();
      ax.selectAll("line").attr("stroke", "#333").attr("stroke-width", 1.1);
      ax.selectAll("text").attr("font-size", 18).attr("fill", "#333").style("font-family", "'Liberation Sans', Arial, sans-serif");
    }
  }
}

// axis titles
svg.append("text").attr("x", colX[1] + S / 2).attr("y", 1184).attr("text-anchor", "middle")
  .attr("font-size", 24).attr("fill", "#000").text("Longitude error [m]");
svg.append("text").attr("transform", `translate(30,${rowY[1] + S / 2}) rotate(-90)`).attr("text-anchor", "middle")
  .attr("font-size", 24).attr("fill", "#000").text("Latitude error [m]");
</script>
</body>
</html>
